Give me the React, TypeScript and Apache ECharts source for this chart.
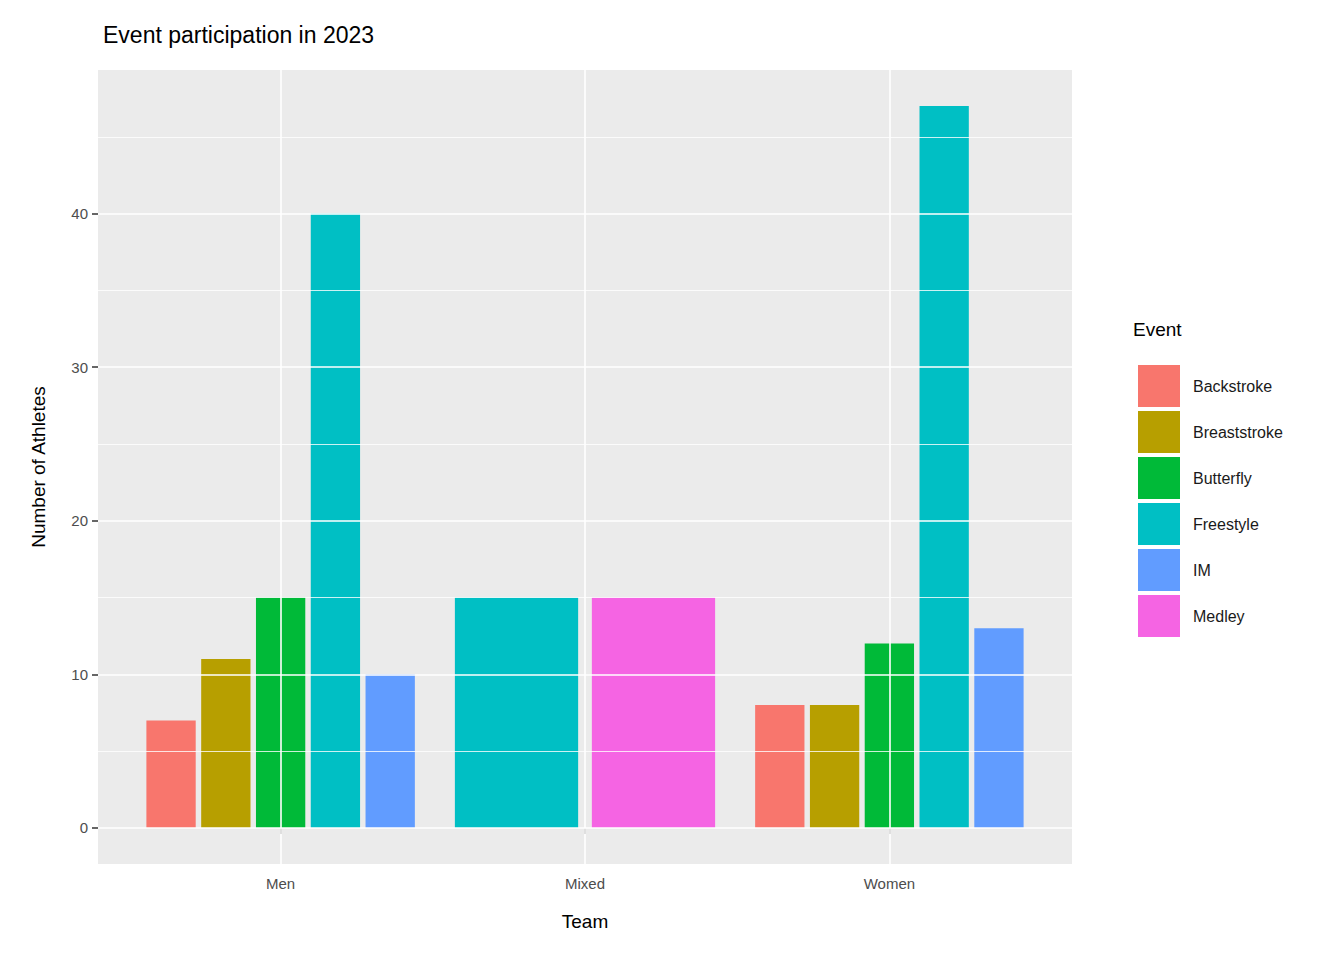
import { useEffect, useRef } from 'react';
import * as echarts from 'echarts';

const teams = ['Men', 'Mixed', 'Women'];
const events = ['Backstroke', 'Breaststroke', 'Butterfly', 'Freestyle', 'IM', 'Medley'];
const colors = ['#F8766D', '#B79F00', '#00BA38', '#00BFC4', '#619CFF', '#F564E3'];
// counts per team, null = event not held
const men = [7, 11, 15, 40, 10, null];
const mixed = [null, null, null, 15, null, 15];
const women = [8, 8, 12, 47, 13, null];
const counts = [men, mixed, women];
const yTicks = [0, 10, 20, 30, 40];
const yMinor = [5, 15, 25, 35, 45];

// dodge2-like placement: bars share 0.9 of each category slot
const buildData = (ei: number) => {
  const out: number[][] = [];
  counts.forEach((row, ti) => {
    const present = row.map((v, i) => (v == null ? -1 : i)).filter((i) => i >= 0);
    const k = present.indexOf(ei);
    if (k < 0) return;
    const slot = 0.9 / present.length;
    out.push([ti + 1 - 0.45 + slot * (k + 0.5), row[ei] as number, slot * 0.9]);
  });
  return out;
};

const App = () => {
  const chartRef = useRef<HTMLDivElement>(null);

  useEffect(() => {
    if (!chartRef.current) return;
    const chart = echarts.init(chartRef.current, null, { renderer: 'svg' });
    const gridLines: any[] = [
      ...yMinor.map((v) => ({ yAxis: v, lineStyle: { color: '#fff', width: 0.8, type: 'solid' } })),
      ...yTicks.map((v) => ({ yAxis: v, lineStyle: { color: '#fff', width: 1.6, type: 'solid' } })),
      ...teams.map((_, i) => ({ xAxis: i + 1, lineStyle: { color: '#fff', width: 1.6, type: 'solid' } })),
    ];
    const option: any = {
      animation: false,
      title: {
        text: 'Event participation in 2023',
        left: 90, top: 10,
        textStyle: { fontSize: 23, fontWeight: 'normal', color: '#000', fontFamily: 'Liberation Sans' },
      },
      grid: { left: 90, top: 62, right: 264, bottom: 88, show: true, backgroundColor: '#EBEBEB', borderWidth: 0 },
      xAxis: {
        type: 'value', min: 0.4, max: 3.6,
        name: 'Team', nameLocation: 'middle', nameGap: 48,
        nameTextStyle: { fontSize: 19, color: '#000', fontFamily: 'Liberation Sans' },
        axisLine: { show: false },
        splitLine: { show: false },
        axisTick: { show: true, customValues: [1, 2, 3], length: 6, lineStyle: { color: '#333', width: 1.5 } },
        axisLabel: {
          customValues: [1, 2, 3], formatter: (v: number) => teams[Math.round(v) - 1] ?? '',
          fontSize: 15, color: '#4D4D4D', margin: 12, fontFamily: 'Liberation Sans',
        },
      },
      yAxis: {
        type: 'value', min: -2.35, max: 49.35,
        name: 'Number of Athletes', nameLocation: 'middle', nameGap: 50, nameRotate: 90,
        nameTextStyle: { fontSize: 19, color: '#000', fontFamily: 'Liberation Sans' },
        axisLine: { show: false },
        splitLine: { show: false },
        axisTick: { show: true, customValues: yTicks, length: 6, lineStyle: { color: '#333', width: 1.5 } },
        axisLabel: { customValues: yTicks, fontSize: 15, color: '#4D4D4D', margin: 10, fontFamily: 'Liberation Sans' },
      },
      legend: {
        orient: 'vertical', left: 1125, top: 352,
        itemWidth: 42, itemHeight: 42, itemGap: 4,
        icon: 'rect',
        textStyle: { fontSize: 16, color: '#1a1a1a', padding: [0, 0, 0, 8], fontFamily: 'Liberation Sans' },
        data: events,
      },
      graphic: [{
        type: 'text', left: 1125, top: 312,
        style: { text: 'Event', fontSize: 19, fill: '#000', fontFamily: 'Liberation Sans' },
      }],
      series: [
        {
          type: 'line', data: [], z: 1, silent: true,
          markLine: { silent: true, symbol: 'none', label: { show: false }, data: gridLines, animation: false },
        },
        ...events.map((name, ei) => ({
          type: 'custom', name, z: 2,
          itemStyle: { color: colors[ei] },
          data: buildData(ei),
          encode: { x: 0, y: 1 },
          renderItem: (_p: any, api: any) => {
            const x = api.value(0), v = api.value(1), w = api.value(2);
            const top = api.coord([x, v]);
            const base = api.coord([x, 0]);
            const pw = api.size([w, 0])[0];
            return {
              type: 'rect',
              shape: { x: top[0] - pw / 2, y: top[1], width: pw, height: base[1] - top[1] },
              style: { fill: colors[ei] },
            };
          },
        })),
      ],
    };
    chart.setOption(option);
    return () => chart.dispose();
  }, []);

  return <div ref={chartRef} style={{ width: 1328, height: 944 }} />;
};

export default App;
